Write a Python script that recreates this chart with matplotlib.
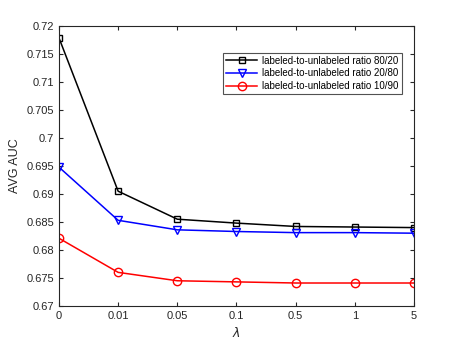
import matplotlib
matplotlib.use("Agg")
import matplotlib.pyplot as plt

lambdas = ['0', '0.01', '0.05', '0.1', '0.5', '1', '5']
auc_80_20 = [0.7179, 0.6905, 0.6855, 0.6848, 0.6842, 0.6841, 0.6840]
auc_20_80 = [0.6948, 0.6853, 0.6836, 0.6833, 0.6831, 0.6831, 0.6830]
auc_10_90 = [0.6821, 0.6760, 0.6745, 0.6743, 0.6741, 0.6741, 0.6741]
yticks = [0.67, 0.675, 0.68, 0.685, 0.69, 0.695, 0.70, 0.705, 0.71, 0.715, 0.72]

plt.rcParams['font.family'] = ['Liberation Sans', 'DejaVu Sans']
fig = plt.figure(figsize=(4.57, 3.43), dpi=100)
ax = fig.add_axes([0.129, 0.108, 0.777, 0.816])

x = range(len(lambdas))
ax.plot(x, auc_80_20, color='black', marker='s', mfc='none', ms=5, mew=1.0, lw=1.1,
        label='labeled-to-unlabeled ratio 80/20')
ax.plot(x, auc_20_80, color='blue', marker='v', mfc='none', ms=6, mew=1.0, lw=1.1,
        label='labeled-to-unlabeled ratio 20/80')
ax.plot(x, auc_10_90, color='red', marker='o', mfc='none', ms=6, mew=1.0, lw=1.1,
        label='labeled-to-unlabeled ratio 10/90')

ax.set_xlim(0, len(lambdas) - 1)
ax.set_ylim(0.67, 0.72)
ax.set_xticks(list(x))
ax.set_xticklabels(lambdas)
ax.set_yticks(yticks)
ax.set_yticklabels(['%g' % t for t in yticks])
gray = '#262626'
ax.tick_params(direction='in', top=True, right=True, labelsize=8, colors=gray, length=3)
for s in ax.spines.values():
    s.set_color(gray)
    s.set_linewidth(0.8)
ax.set_xlabel(r'$\lambda$', fontsize=9, color=gray)
ax.set_ylabel('AVG AUC', fontsize=9, color=gray)

leg = ax.legend(loc='upper right', bbox_to_anchor=(0.965, 0.905), fontsize=7,
                fancybox=False, edgecolor=gray, handlelength=3.2, borderpad=0.3,
                labelspacing=0.3, handletextpad=0.5, borderaxespad=0)
leg.get_frame().set_linewidth(0.8)

fig.savefig('out.png', dpi=100)
